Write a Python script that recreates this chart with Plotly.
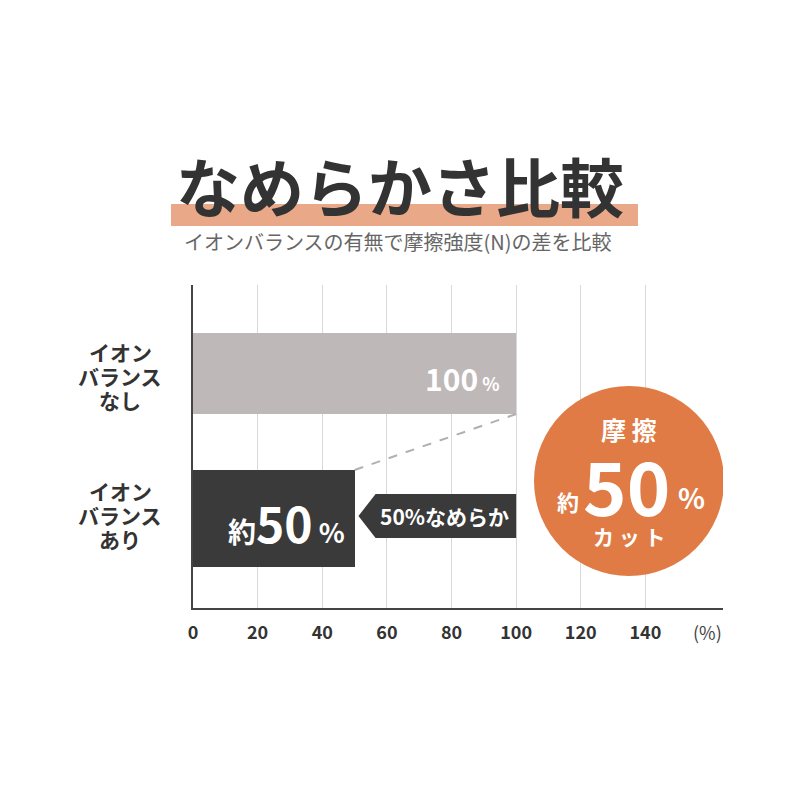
import plotly.graph_objects as go

# ---- data ----
categories = [["イオン", "バランス", "なし"], ["イオン", "バランス", "あり"]]
values = [100, 50]
bar_colors = ["#bfb8b9", "#3a3a3a"]
tick_values = [0, 20, 40, 60, 80, 100, 120, 140]
tick_labels = ["0", "20", "40", "60", "80", "100", "120", "140"]
unit_label = "(%)"
title_text = "なめらかさ比較"
subtitle_text = "イオンバランスの有無で摩擦強度(N)の差を比較"
bar_texts = ["100<span style='font-size:18px'> %</span>",
             "<span style='font-size:28px'>約</span>50<span style='font-size:27px'> %</span>"]
arrow_text = "50%なめらか"
badge_lines = ["摩 擦", "約", "50", "%", "カット"]

# ---- layout constants ----
OFF = 8  # page offset of the figure inside the browser window
W, H = 800, 800
L, R, T, B = 193 - OFF, 77 + OFF, 285 - OFF, 192 + OFF
XMAX = 164
YMAX = 3.23
y_pos = [0.885, 2.335]
y_wid = [0.81, 0.97]
label_mid_px = [376, 515]
label_step_px = 24
JP = "Noto Sans CJK JP"

def px(xp):
    return (xp - OFF - L) / (W - L - R)

def py(yp):
    return (H - B - (yp - OFF)) / (H - T - B)

sx = (W - L - R) / XMAX

def dx(xp):
    return (xp - OFF - L) / sx

fig = go.Figure()
fig.add_trace(go.Bar(
    x=values, y=y_pos, width=y_wid, orientation="h",
    marker=dict(color=bar_colors, line=dict(width=0)),
    hoverinfo="skip", showlegend=False,
))

shapes = []
shapes.append(dict(type="rect", xref="paper", yref="paper",
                   x0=px(171), x1=px(638), y0=py(226), y1=py(204),
                   fillcolor="#e9a888", line=dict(width=0), layer="below"))
shapes.append(dict(type="line", xref="x", yref="y",
                   x0=values[0], y0=y_pos[0] + y_wid[0] / 2,
                   x1=values[1], y1=y_pos[1] - y_wid[1] / 2,
                   line=dict(color="#b0b0b0", width=2, dash="dash")))
ay = 2.31
shapes.append(dict(type="path", xref="x", yref="y",
                   path=f"M 51.2 {ay} L 56.5 {ay-0.22} L {values[0]} {ay-0.22} "
                        f"L {values[0]} {ay+0.22} L 56.5 {ay+0.22} Z",
                   fillcolor="#3a3a3a", line=dict(width=0)))
cx, cy, rpx = 629, 481, 95
shapes.append(dict(type="circle", xref="x", yref="y",
                   x0=dx(cx - rpx), x1=dx(cx + rpx),
                   y0=(cy - 285 - rpx) / 100, y1=(cy - 285 + rpx) / 100,
                   fillcolor="#e07b45", line=dict(width=0)))

ann = []
def add(text, x, y, size, color, xref="paper", yref="paper", xanchor="center", **kw):
    ann.append(dict(text=text, x=x, y=y, xref=xref, yref=yref, showarrow=False,
                    xanchor=xanchor, yanchor="middle",
                    font=dict(family=JP, size=size, color=color), **kw))

add(f"<b>{title_text}</b>", px(400), py(184), 64, "#333333")
add(subtitle_text, px(398), py(241), 20, "#666666")
for lines, mid in zip(categories, label_mid_px):
    for i, line in enumerate(lines):
        add(f"<b>{line}</b>", px(120), py(mid + (i - 1) * label_step_px), 21, "#333333")
add(f"<b>{bar_texts[0]}</b>", values[0] - 4.5, y_pos[0] + 0.04, 30, "white",
    xref="x", yref="y", xanchor="right")
add(f"<b>{bar_texts[1]}</b>", dx(286), y_pos[1] + 0.03, 48, "white",
    xref="x", yref="y")
add(f"<b>{arrow_text}</b>", dx(444), ay, 21, "white", xref="x", yref="y")
add(f"<b>{badge_lines[0]}</b>", dx(cx), py(429), 25, "white", xref="x")
add(f"<b>{badge_lines[1]}</b>", dx(568), py(501), 22, "white", xref="x")
add(f"<b>{badge_lines[2]}</b>", dx(626), py(483), 74, "white", xref="x")
add(f"<b>{badge_lines[3]}</b>", dx(691), py(497), 28, "white", xref="x")
add(f"<b>{' '.join(badge_lines[4])}</b>", dx(cx), py(536), 21, "white", xref="x")
add(unit_label, dx(707), py(632), 18, "#444444", xref="x")

fig.update_layout(
    width=W, height=H,
    margin=dict(l=L, r=R, t=T, b=B, pad=0),
    paper_bgcolor="white", plot_bgcolor="white",
    shapes=shapes, annotations=ann,
    bargap=0,
    xaxis=dict(range=[0, XMAX], tickvals=tick_values, ticktext=tick_labels,
               showgrid=True, gridcolor="#d9d9d9", gridwidth=1,
               zeroline=False, showline=True, linecolor="#444444", linewidth=2,
               ticks="", ticklabelstandoff=7,
               tickfont=dict(family=JP, size=18, color="#333333", weight="bold"),
               fixedrange=True),
    yaxis=dict(range=[YMAX, 0], showticklabels=False, showgrid=False,
               zeroline=False, showline=True, linecolor="#444444", linewidth=2,
               ticks="", fixedrange=True),
)

fig.write_html("out.html")
